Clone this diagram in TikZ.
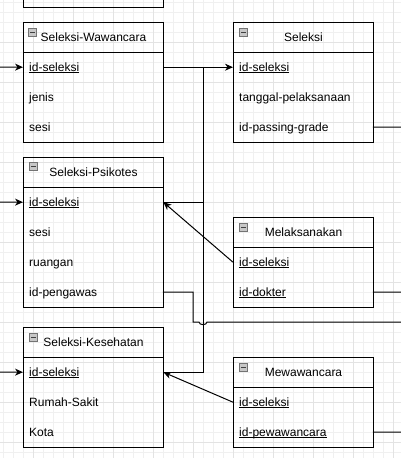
\documentclass[tikz,border=0pt]{standalone}
\usepackage{fontspec}
\setmainfont{Liberation Sans}
\usetikzlibrary{arrows.meta,calc}
\newcommand{\ulx}[1]{\setbox0\hbox{#1}\rlap{\rule[-2pt]{\wd0}{0.9pt}}\box0}
\begin{document}
\begin{tikzpicture}[x=1pt,y=-1pt,
  txt/.style={font=\fontsize{12}{14}\selectfont, text height=10pt, text depth=2pt},
  hdr/.style={txt, draw, line width=1pt, minimum width=140pt, minimum height=30pt, inner sep=0pt, anchor=north west},
  row/.style={txt, minimum width=140pt, minimum height=30pt, text width=128pt, inner xsep=6pt, inner ysep=0pt, align=left, anchor=north west},
  box/.style={line width=1pt},
  icon/.style={draw=black!55, fill=black!22, line width=0.8pt, minimum size=8pt, inner sep=0pt, anchor=north west,
    path picture={\draw[line width=0.9pt, black!75] ([xshift=1.8pt]path picture bounding box.west) -- ([xshift=-1.8pt]path picture bounding box.east);}},
  link/.style={line width=1pt, line cap=rect},
  arr/.style={line width=1pt, -{Stealth[length=8pt,width=7pt,inset=2.5pt]}},
  gminor/.style={line width=0.8pt, black!6},
  gmajor/.style={line width=0.8pt, black!11}
]
\useasboundingbox (0,0) rectangle (401,464);
\fill[white] (0,0) rectangle (401,464);
% grid
\foreach \x in {3,13,...,393} \draw[gminor] (\x,0) -- (\x,458);
\foreach \y in {2,12,...,452} \draw[gminor] (0,\y) -- (401,\y);
\foreach \x in {33,73,...,393} \draw[gmajor] (\x,0) -- (\x,458);
\foreach \y in {42,82,...,442} \draw[gmajor] (0,\y) -- (401,\y);

% partial box at top
\draw[box] (23,0) -- (23,7) -- (163,7) -- (163,0);

% Seleksi-Wawancara
\node[hdr] (hW) at (23,22) {Seleksi-Wawancara};
\node[row] (w1) at (23,52) {\ulx{id-seleksi}};
\node[row] (w2) at (23,82) {jenis};
\node[row] (w3) at (23,112) {sesi};
\draw[box] (w1.north west) rectangle (w3.south east);
\node[icon] (iW) at ([xshift=5pt,yshift=-6pt]hW.north west) {};

% Seleksi
\node[hdr] (hS) at (233,22) {Seleksi};
\node[row] (s1) at (233,52) {\ulx{id-seleksi}};
\node[row] (s2) at (233,82) {tanggal-pelaksanaan};
\node[row] (s3) at (233,112) {id-passing-grade};
\draw[box] (s1.north west) rectangle (s3.south east);
\node[icon] (iS) at ([xshift=6pt,yshift=-6pt]hS.north west) {};

% Seleksi-Psikotes
\node[hdr] (hP) at (23,157) {Seleksi-Psikotes};
\node[row] (p1) at (23,187) {\ulx{id-seleksi}};
\node[row] (p2) at (23,217) {sesi};
\node[row] (p3) at (23,247) {ruangan};
\node[row] (p4) at (23,277) {id-pengawas};
\draw[box] (p1.north west) rectangle (p4.south east);
\node[icon] (iP) at ([xshift=6pt,yshift=-5pt]hP.north west) {};

% Melaksanakan
\node[hdr] (hM) at (233,217) {Melaksanakan};
\node[row] (m1) at (233,247) {\ulx{id-seleksi}};
\node[row] (m2) at (233,277) {\ulx{id-dokter}};
\draw[box] (m1.north west) rectangle (m2.south east);
\node[icon] (iM) at ([xshift=6pt,yshift=-6pt]hM.north west) {};

% Seleksi-Kesehatan
\node[hdr] (hK) at (23,327) {Seleksi-Kesehatan};
\node[row] (k1) at (23,357) {\ulx{id-seleksi}};
\node[row] (k2) at (23,387) {Rumah-Sakit};
\node[row] (k3) at (23,417) {Kota};
\draw[box] (k1.north west) rectangle (k3.south east);
\node[icon] (iK) at ([xshift=6pt,yshift=-6pt]hK.north west) {};

% Mewawancara
\node[hdr] (hV) at (233,357) {Mewawancara};
\node[row] (v1) at (233,387) {\ulx{id-seleksi}};
\node[row] (v2) at (233,417) {\ulx{id-pewawancara}};
\draw[box] (v1.north west) rectangle (v2.south east);
\node[icon] (iV) at ([xshift=6pt,yshift=-6pt]hV.north west) {};

% free ends
\coordinate (inW) at (0,67);
\coordinate (inP) at (0,202);
\coordinate (inK) at (0,372);
\coordinate (j1) at (203,67);
\coordinate (pb) at (193,322);
\coordinate (outP) at (401,322);
\coordinate (outS) at (401,127);
\coordinate (outM) at (401,292);
\coordinate (outV) at (401,432);

% connectors
\draw[arr] (inW) -- (w1.west);
\draw[arr] (inP) -- (p1.west);
\draw[arr] (inK) -- (k1.west);
\draw[arr] (w1.east) -- (s1.west);
\draw[link] (j1) |- (k1.east);
\draw[link] (j1) |- (p1.east);
\draw[link] (p4.east) -| (pb) -- ([xshift=-4pt]pb -| j1) .. controls ([shift={(-4pt,-3.5pt)}]pb -| j1) and ([shift={(4pt,-3.5pt)}]pb -| j1) .. ([xshift=4pt]pb -| j1) -- (outP);
\draw[link] (s3.east) -- (outS);
\draw[link] (m2.east) -- (outM);
\draw[link] (v2.east) -- (outV);
\draw[arr] (m1.west) -- (p1.east);
\draw[arr] (v1.west) -- (k1.east);
\end{tikzpicture}
\end{document}
